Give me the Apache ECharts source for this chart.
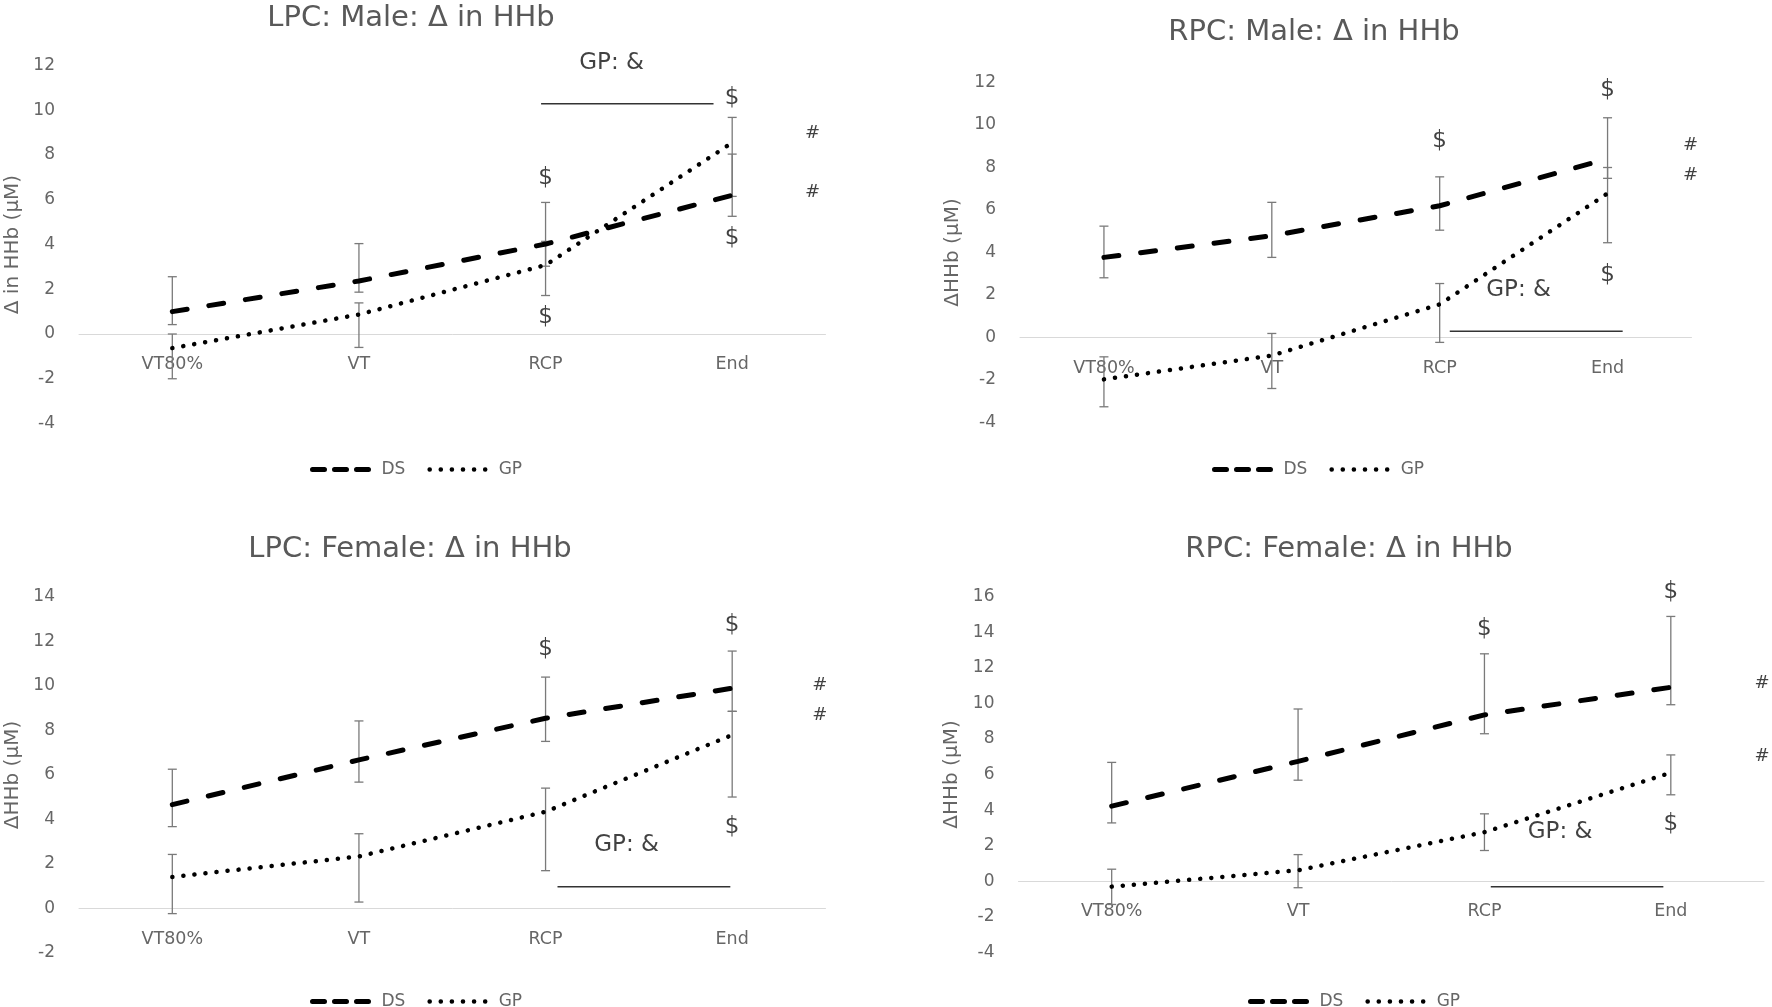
<!DOCTYPE html>
<html><head><meta charset="utf-8">
<script src="https://cdn.jsdelivr.net/npm/echarts@6/dist/echarts.min.js"></script>
<style>html,body{margin:0;padding:0;background:#fff;}#c{width:1772px;height:1007px;}</style>
</head><body><div id="c"></div>
<script>
// ---------- data ----------
const categories = ['VT80%', 'VT', 'RCP', 'End'];
const seriesNames = ['DS', 'GP'];

// LPC Male
const lpcMaleDS = [1.0, 2.37, 4.02, 6.2];
const lpcMaleGP = [-0.63, 0.87, 3.08, 8.55];
const lpcMaleDSErr = [[0.42, 2.56], [1.87, 4.04], [3.03, 5.88], [5.26, 8.04]];
const lpcMaleGPErr = [[-2.0, 0.0], [-0.6, 1.39], [1.72, 4.14], [6.15, 9.68]];
const lpcMaleYTicks = [-4, -2, 0, 2, 4, 6, 8, 10, 12];
const lpcMaleNotes = [['GP: &', 2.354, 12.1], ['$', 2, 6.97], ['$', 2, 0.77], ['$', 3, 10.54], ['$', 3, 4.29], ['#', 3.43, 8.95], ['#', 3.43, 6.33]];
const lpcMaleBracket = [[1.976, 10.29], [2.90, 10.29]];

// RPC Male
const rpcMaleDS = [3.77, 4.79, 6.2, 8.41];
const rpcMaleGP = [-1.97, -0.85, 1.56, 6.78];
const rpcMaleDSErr = [[2.81, 5.24], [3.77, 6.36], [5.05, 7.56], [7.49, 10.34]];
const rpcMaleGPErr = [[-3.26, -0.91], [-2.4, 0.19], [-0.23, 2.54], [4.46, 8.0]];
const rpcMaleYTicks = [-4, -2, 0, 2, 4, 6, 8, 10, 12];
const rpcMaleNotes = [['$', 2, 9.24], ['$', 3, 11.64], ['$', 3, 2.94], ['#', 3.495, 9.05], ['#', 3.495, 7.64], ['GP: &', 2.47, 2.23]];
const rpcMaleBracket = [[2.06, 0.30], [3.09, 0.30]];

// LPC Female
const lpcFemaleDS = [4.67, 6.68, 8.55, 9.9];
const lpcFemaleGP = [1.42, 2.34, 4.35, 7.8];
const lpcFemaleDSErr = [[3.68, 6.26], [5.68, 8.43], [7.51, 10.4], [8.86, 11.57]];
const lpcFemaleGPErr = [[-0.23, 2.43], [0.29, 3.36], [1.7, 5.41], [5.01, 8.86]];
const lpcFemaleYTicks = [-2, 0, 2, 4, 6, 8, 10, 12, 14];
const lpcFemaleNotes = [['$', 2, 11.64], ['$', 3, 12.73], ['$', 3, 3.66], ['#', 3.47, 10.02], ['#', 3.47, 8.67], ['GP: &', 2.434, 2.86]];
const lpcFemaleBracket = [[2.064, 0.98], [2.99, 0.98]];

// RPC Female
const rpcFemaleDS = [4.22, 6.74, 9.35, 10.9];
const rpcFemaleGP = [-0.3, 0.62, 2.76, 6.1];
const rpcFemaleDSErr = [[3.28, 6.68], [5.68, 9.68], [8.29, 12.78], [9.92, 14.88]];
const rpcFemaleGPErr = [[-1.3, 0.68], [-0.36, 1.5], [1.73, 3.79], [4.86, 7.1]];
const rpcFemaleYTicks = [-4, -2, 0, 2, 4, 6, 8, 10, 12, 14, 16];
const rpcFemaleNotes = [['$', 2, 14.2], ['$', 3, 16.24], ['$', 3, 3.2], ['#', 3.49, 11.1], ['#', 3.49, 7.0], ['GP: &', 2.406, 2.77]];
const rpcFemaleBracket = [[2.034, -0.3], [2.96, -0.3]];

const titles = ['LPC: Male: Δ in HHb', 'RPC: Male: Δ in HHb', 'LPC: Female: Δ in HHb', 'RPC: Female: Δ in HHb'];
const yNames = ['Δ in HHb (μM)', 'ΔHHb (μM)', 'ΔHHb (μM)', 'ΔHHb (μM)'];

const panels = [
  {ds: lpcMaleDS, gp: lpcMaleGP, dsErr: lpcMaleDSErr, gpErr: lpcMaleGPErr, ticks: lpcMaleYTicks, notes: lpcMaleNotes, bracket: lpcMaleBracket},
  {ds: rpcMaleDS, gp: rpcMaleGP, dsErr: rpcMaleDSErr, gpErr: rpcMaleGPErr, ticks: rpcMaleYTicks, notes: rpcMaleNotes, bracket: rpcMaleBracket},
  {ds: lpcFemaleDS, gp: lpcFemaleGP, dsErr: lpcFemaleDSErr, gpErr: lpcFemaleGPErr, ticks: lpcFemaleYTicks, notes: lpcFemaleNotes, bracket: lpcFemaleBracket},
  {ds: rpcFemaleDS, gp: rpcFemaleGP, dsErr: rpcFemaleDSErr, gpErr: rpcFemaleGPErr, ticks: rpcFemaleYTicks, notes: rpcFemaleNotes, bracket: rpcFemaleBracket}
];

// ---------- layout ----------
const layouts = [
  {grid: [79, 65.5, 746.5, 358], title: [411, 18], legend: [305, 456], nameGap: 56, catMargin: -68},
  {grid: [1020, 82.5, 671.5, 340], title: [1314, 32.5], legend: [1207, 456], nameGap: 57, catMargin: -63},
  {grid: [79, 597, 746.5, 356], title: [410, 549], legend: [305, 988], nameGap: 56, catMargin: -23},
  {grid: [1018.5, 596.5, 745.5, 356], title: [1349, 549], legend: [1243, 988], nameGap: 57, catMargin: -50}
];
const FONT = 'DejaVu Sans';
const TXT = '#595959';
const TICK = '#666666';
const DS_STYLE = {color: '#000', width: 5, type: [15, 22], cap: 'round'};
const GP_STYLE = {color: '#000', width: 4.5, type: [0.1, 11], cap: 'round'};

function errRender(params, api) {
  const x = api.value(0), lo = api.value(1), hi = api.value(2);
  const a = api.coord([x, lo]), b = api.coord([x, hi]);
  const w = 4.5;
  const style = {stroke: '#7a7a7a', lineWidth: 1.3, fill: null};
  return {type: 'group', children: [
    {type: 'line', shape: {x1: a[0], y1: a[1], x2: b[0], y2: b[1]}, style: style},
    {type: 'line', shape: {x1: a[0] - w, y1: a[1], x2: a[0] + w, y2: a[1]}, style: style},
    {type: 'line', shape: {x1: b[0] - w, y1: b[1], x2: b[0] + w, y2: b[1]}, style: style}
  ]};
}

const option = {backgroundColor: '#fff', animation: false, grid: [], xAxis: [], yAxis: [], series: [], legend: [], graphic: []};

panels.forEach(function (p, i) {
  const L = layouts[i];
  option.grid.push({left: L.grid[0], top: L.grid[1], width: L.grid[2], height: L.grid[3]});
  option.xAxis.push({
    type: 'category', gridIndex: i, data: categories, boundaryGap: true,
    axisLine: {onZero: true, onZeroAxisIndex: i, lineStyle: {color: '#d9d9d9', width: 1}},
    axisTick: {show: false}, splitLine: {show: false},
    axisLabel: {color: TICK, fontSize: 17.5, margin: L.catMargin, fontFamily: FONT}
  });
  option.yAxis.push({
    type: 'value', gridIndex: i, min: p.ticks[0], max: p.ticks[p.ticks.length - 1], interval: 2,
    axisLine: {show: false, onZero: false}, axisTick: {show: false}, splitLine: {show: false},
    axisLabel: {color: TICK, fontSize: 17, margin: 24, fontFamily: FONT},
    name: yNames[i], nameLocation: 'middle', nameGap: L.nameGap, nameRotate: 90,
    nameTextStyle: {color: TICK, fontSize: 20, fontFamily: FONT}
  });
  option.graphic.push({
    type: 'text', x: L.title[0], y: L.title[1], silent: true,
    style: {text: titles[i], fill: TXT, font: '29px "' + FONT + '"', textAlign: 'center', textVerticalAlign: 'middle'}
  });
  option.legend.push({
    left: L.legend[0], top: L.legend[1], itemWidth: 64, itemHeight: 14, itemGap: 22, selectedMode: false,
    textStyle: {color: TICK, fontSize: 17, fontFamily: FONT},
    data: [
      {name: seriesNames[0], itemStyle: {opacity: 0}, lineStyle: {color: '#000', width: 5, type: [12, 10], cap: 'round'}},
      {name: seriesNames[1], itemStyle: {opacity: 0}, lineStyle: {color: '#000', width: 4.5, type: [0.1, 11], cap: 'round'}}
    ]
  });
  option.series.push({
    type: 'custom', name: 'DS error', xAxisIndex: i, yAxisIndex: i, renderItem: errRender, z: 2, silent: true,
    encode: {x: 0, y: [1, 2]},
    data: p.dsErr.map(function (e, k) { return [k, e[0], e[1]]; })
  });
  option.series.push({
    type: 'custom', name: 'GP error', xAxisIndex: i, yAxisIndex: i, renderItem: errRender, z: 2, silent: true,
    encode: {x: 0, y: [1, 2]},
    data: p.gpErr.map(function (e, k) { return [k, e[0], e[1]]; })
  });
  option.series.push({
    type: 'line', name: seriesNames[0], xAxisIndex: i, yAxisIndex: i, data: p.ds, symbol: 'none', z: 3,
    lineStyle: DS_STYLE, itemStyle: {color: '#000'}
  });
  option.series.push({
    type: 'line', name: seriesNames[1], xAxisIndex: i, yAxisIndex: i, data: p.gp, symbol: 'none', z: 3,
    lineStyle: GP_STYLE, itemStyle: {color: '#000'}
  });
});

// hidden continuous x axes aligned with category centres, for annotations
panels.forEach(function (p, i) {
  option.xAxis.push({type: 'value', gridIndex: i, min: -0.5, max: 3.5, show: false, axisLine: {onZero: false}});
  option.series.push({
    type: 'scatter', name: 'notes' + i, xAxisIndex: 4 + i, yAxisIndex: i, clip: false, silent: true,
    symbolSize: 1, itemStyle: {color: 'rgba(0,0,0,0)'}, z: 5,
    label: {show: true, position: 'inside', formatter: '{b}', color: '#111', fontSize: 23, fontFamily: FONT},
    data: p.notes.map(function (n) {
      return {name: n[0], value: [n[1], n[2]], label: {fontSize: n[0] === '#' ? 18 : 23}};
    })
  });
  option.series.push({
    type: 'line', name: 'bracket' + i, xAxisIndex: 4 + i, yAxisIndex: i, symbol: 'none', silent: true, z: 4,
    lineStyle: {color: '#333', width: 1.5, type: 'solid'},
    data: p.bracket
  });
});

const chart = echarts.init(document.getElementById('c'));
chart.setOption(option);
</script>
</body></html>
